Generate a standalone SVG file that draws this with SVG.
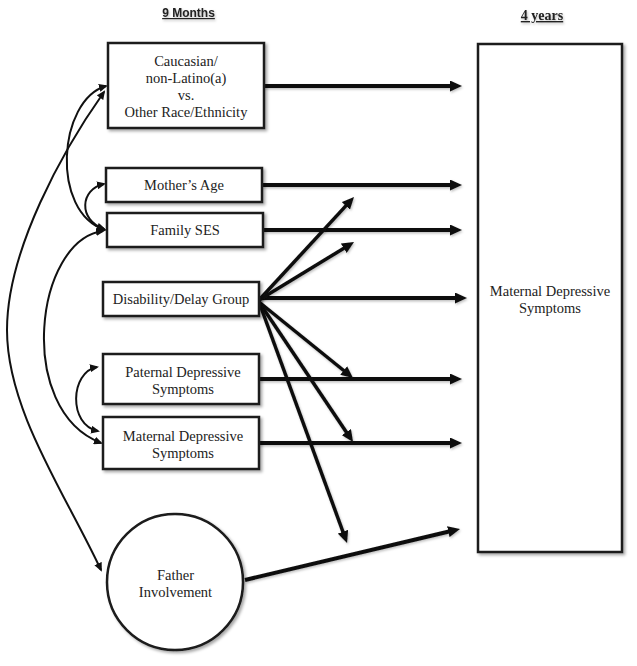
<svg xmlns="http://www.w3.org/2000/svg" width="637" height="666" viewBox="0 0 637 666">
<style>
.box{fill:#fff;stroke:#1a1a1a;stroke-width:2.5;filter:url(#sh)}
.t{font-family:"Liberation Serif","Times New Roman",serif;font-size:14.5px;fill:#222;text-anchor:middle}
.hd{text-anchor:middle;fill:#222;text-decoration:underline;filter:url(#sh2)}
.thick{fill:none;stroke:#111;stroke-width:4;marker-end:url(#ah);filter:url(#sh2)}
.diag{fill:none;stroke:#111;stroke-width:3.5;marker-end:url(#ah);filter:url(#sh2)}
.cv{fill:none;stroke:#111;stroke-width:2;marker-start:url(#sm);marker-end:url(#sm)}
</style>
<defs>
<filter id="sh" x="-10%" y="-10%" width="130%" height="130%">
<feDropShadow dx="2" dy="2" stdDeviation="1.5" flood-color="#000" flood-opacity="0.35"/>
</filter>
<filter id="sh2" filterUnits="userSpaceOnUse" x="0" y="0" width="637" height="666">
<feDropShadow dx="1" dy="1.5" stdDeviation="1" flood-color="#000" flood-opacity="0.25"/>
</filter>
<marker id="ah" markerUnits="userSpaceOnUse" markerWidth="12" markerHeight="11" refX="4" refY="5.5" orient="auto">
<path d="M0,0 L12,5.5 L0,11 z" fill="#111"/>
</marker>
<marker id="sm" markerUnits="userSpaceOnUse" markerWidth="9" markerHeight="8" refX="7" refY="4" orient="auto-start-reverse">
<path d="M0,0 L9,4 L0,8 z" fill="#111"/>
</marker>
</defs>
<rect width="637" height="666" fill="#fff"/>

<text class="hd" x="188.5" y="17" font-family="'Liberation Sans',Arial,sans-serif" font-size="12" font-weight="bold">9 Months</text>
<text class="hd" x="542" y="20" font-family="'Liberation Serif','Times New Roman',serif" font-size="14" font-weight="bold">4 years</text>

<g id="connectors">
<path class="thick" d="M264,86 L454,86"/>
<path class="thick" d="M262,185 L454,185"/>
<path class="thick" d="M263,230 L454,230"/>
<path class="thick" d="M259,298 L459,298"/>
<path class="thick" d="M259,379 L454,379"/>
<path class="thick" d="M259,443 L454,443"/>
<path class="thick" d="M245,580 L452.2,530.8"/>
<path class="diag" d="M259,300 L348.6,202.9"/>
<path class="diag" d="M259,300 L347.2,246.2"/>
<path class="diag" d="M259,302 L346.8,373"/>
<path class="diag" d="M259,302 L348.6,435.4"/>
<path class="diag" d="M259,302 L344.3,535.5"/>
<path class="cv" d="M106,86 C 58,100 50,212 105,230"/>
<path class="cv" d="M104,92 C 63,150 7,250 7,330 C 7,410 65,493 101,570"/>
<path class="cv" d="M104,184 C 80,189 78,220 104,229"/>
<path class="cv" d="M103,231 C 35,240 15,410 101,443"/>
<path class="cv" d="M97,367 C 70,372 68,425 98,431"/>
</g>

<g id="race">
<rect class="box" x="108" y="43" width="156" height="85"/>
<text class="t" x="186" y="66">Caucasian/</text>
<text class="t" x="186" y="83">non-Latino(a)</text>
<text class="t" x="186" y="100">vs.</text>
<text class="t" x="186" y="117">Other Race/Ethnicity</text>
</g>
<g id="mothers-age">
<rect class="box" x="106" y="168" width="156" height="34"/>
<text class="t" x="184" y="190">Mother’s Age</text>
</g>
<g id="family-ses">
<rect class="box" x="107" y="213" width="156" height="34"/>
<text class="t" x="185" y="235">Family SES</text>
</g>
<g id="disability">
<rect class="box" x="103" y="282" width="156" height="34"/>
<text class="t" x="181" y="304">Disability/Delay Group</text>
</g>
<g id="paternal-dep">
<rect class="box" x="103" y="354" width="156" height="50"/>
<text class="t" x="183" y="377">Paternal Depressive</text>
<text class="t" x="183" y="394">Symptoms</text>
</g>
<g id="maternal-dep-9m">
<rect class="box" x="103" y="417" width="156" height="52"/>
<text class="t" x="183" y="441">Maternal Depressive</text>
<text class="t" x="183" y="458">Symptoms</text>
</g>
<g id="father-involvement">
<circle class="box" cx="175" cy="582" r="68"/>
<text class="t" x="175.5" y="580">Father</text>
<text class="t" x="175.5" y="597">Involvement</text>
</g>
<g id="maternal-dep-4y">
<rect class="box" x="478" y="44" width="144" height="508"/>
<text class="t" x="550" y="296">Maternal Depressive</text>
<text class="t" x="550" y="313">Symptoms</text>
</g>
</svg>
